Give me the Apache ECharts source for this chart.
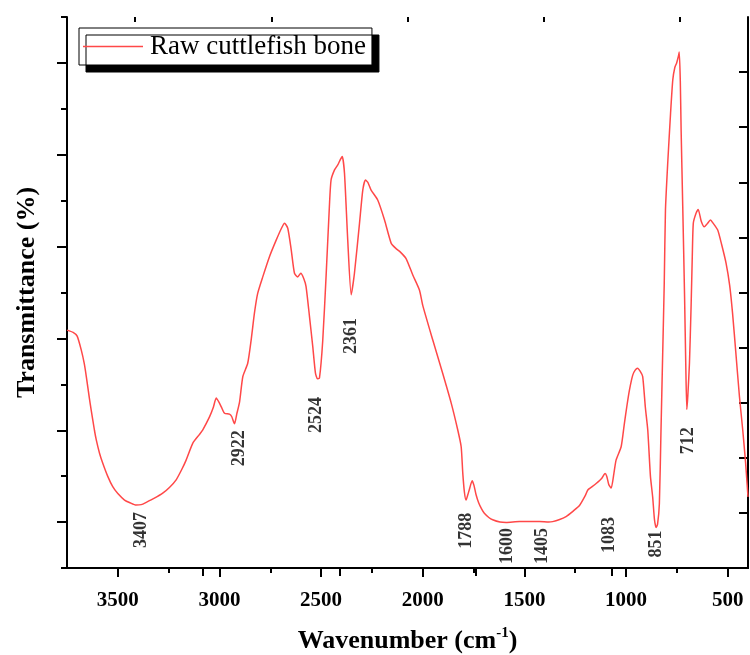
<!DOCTYPE html>
<html>
<head>
<meta charset="utf-8">
<script src="https://cdn.jsdelivr.net/npm/echarts@6/dist/echarts.min.js"></script>
<style>
html,body{margin:0;padding:0;background:#fff;}
#chart{width:750px;height:655px;}
</style>
</head>
<body>
<div id="chart"></div>
<script>
// ---- data ----
const seriesName = 'Raw cuttlefish bone';
const wavenumbers = [3750,3720,3700,3680,3665,3655,3640,3631,3615,3606,3590,3574,3550,3525,3500,3467,3440,3410,3385,3360,3320,3279,3245,3213,3185,3164,3131,3100,3082,3049,3030,3016,3000,2991,2975,2951,2940,2926,2915,2901,2885,2861,2844,2828,2812,2787,2754,2721,2695,2680,2664,2647,2631,2615,2600,2585,2574,2557,2541,2528,2518,2508,2492,2475,2459,2451,2434,2418,2405,2396,2385,2369,2352,2336,2311,2295,2282,2270,2254,2221,2188,2155,2130,2110,2082,2049,2016,2000,1951,1902,1860,1828,1811,1803,1795,1787,1778,1770,1757,1748,1738,1725,1710,1697,1675,1656,1620,1590,1524,1480,1426,1380,1361,1330,1295,1260,1229,1200,1188,1170,1147,1120,1103,1095,1085,1073,1060,1049,1024,1008,995,983,967,955,943,930,918,905,893,880,869,860,852,845,836,828,820,812,806,795,781,770,760,751,742,738,733,729,721,712,706,701,696,688,680,674,669,656,645,630,615,600,585,570,549,530,508,490,476,460,442,426,412,400];
const transmittance = [5.18,5.13,5.05,4.75,4.45,4.17,3.70,3.44,3.00,2.79,2.50,2.28,2.00,1.77,1.62,1.48,1.42,1.37,1.38,1.43,1.52,1.63,1.76,1.92,2.15,2.35,2.72,2.90,3.01,3.29,3.50,3.70,3.59,3.51,3.37,3.35,3.30,3.14,3.35,3.62,4.17,4.46,4.97,5.55,5.98,6.34,6.78,7.14,7.40,7.51,7.40,6.93,6.42,6.34,6.42,6.30,6.13,5.47,4.82,4.25,4.12,4.14,4.95,6.40,7.90,8.45,8.67,8.78,8.90,8.96,8.60,7.14,5.95,6.42,7.51,8.23,8.45,8.40,8.23,8.01,7.58,7.07,6.95,6.88,6.74,6.38,6.05,5.72,4.97,4.24,3.59,3.01,2.64,2.06,1.65,1.48,1.60,1.72,1.90,1.80,1.60,1.42,1.28,1.19,1.10,1.05,1.00,0.99,1.01,1.01,1.01,1.00,1.01,1.05,1.12,1.24,1.36,1.58,1.70,1.76,1.84,1.95,2.06,2.00,1.82,1.74,2.05,2.35,2.64,3.15,3.55,3.88,4.20,4.31,4.35,4.28,4.17,3.50,3.00,2.00,1.55,1.05,0.88,0.95,1.40,3.00,4.60,6.20,7.80,8.81,9.90,10.63,10.90,11.00,11.15,11.24,10.60,9.54,7.87,5.91,4.40,3.45,3.75,4.46,5.69,6.80,7.51,7.72,7.81,7.55,7.43,7.50,7.58,7.50,7.36,7.05,6.64,6.15,5.55,4.70,3.73,3.01,2.30,1.55];

const peakLabels = ['3407','2922','2524','2361','1788','1600','1405','1083','851','712'];
const peakLabelX = [3383,2901,2523,2351,1785,1586,1414,1082,851,693];
const peakLabelY = [0.83,2.61,3.33,5.05,0.81,0.48,0.48,0.72,0.52,2.77];

const xMajorTicks = [3500,3000,2500,2000,1500,1000,500];
const xMinorTicks = [3250,2750,2250,1750,1250,750];
const yMajorTicks = [1,3,5,7,9,11];
const yMinorTicks = [0,2,4,6,8,10,12];
const topMajorTicks = [2,4,6,8];
const topMinorTicks = [1,3,5,7,9];
const rightTicks = [1,2,3,4,5,6,7,8,9];

// ---- chart ----
const serif = '"Liberation Serif","Times New Roman",serif';
const lineColor = '#ff4848';
const axisLine = {show:true, lineStyle:{color:'#000', width:2}};

const chart = echarts.init(document.getElementById('chart'), null, {renderer:'canvas'});
chart.setOption({
  animation:false,
  backgroundColor:'#fff',
  grid:{left:67, right:2, top:17, bottom:87, outerBoundsMode:'none', containLabel:false},
  legend:{
    data:[{name:seriesName, icon:'rect'}], left:79, top:28, orient:'horizontal',
    padding:[5,6,5,4], itemWidth:60, itemHeight:1.6, itemGap:5,
    backgroundColor:'#fff', borderColor:'#000', borderWidth:1,
    shadowColor:'#000', shadowBlur:0, shadowOffsetX:7, shadowOffsetY:7,
    textStyle:{fontFamily:serif, fontSize:27, color:'#000', padding:[0,0,0,2]}
  },
  xAxis:[
    {type:'value', position:'bottom', inverse:true, min:400, max:3750,
     axisLine:axisLine, splitLine:{show:false},
     axisTick:{show:true, inside:false, length:9, lineStyle:{color:'#000', width:2}, customValues:xMajorTicks},
     axisLabel:{show:true, customValues:xMajorTicks, margin:22, formatter:v=>String(v),
                fontFamily:serif, fontWeight:'bold', fontSize:21, color:'#000'},
     name:'{a|Wavenumber (cm}{s|-1}{a|)}', nameLocation:'middle', nameGap:58,
     nameTextStyle:{rich:{
       a:{fontFamily:serif, fontWeight:'bold', fontSize:26, color:'#000', lineHeight:30},
       s:{fontFamily:serif, fontWeight:'bold', fontSize:15, color:'#000', verticalAlign:'top', lineHeight:30, padding:[0,0,10,0]}
     }}
    },
    {type:'value', position:'bottom', inverse:true, min:400, max:3750,
     axisLine:{show:false}, splitLine:{show:false}, axisLabel:{show:false},
     axisTick:{show:true, inside:false, length:5, lineStyle:{color:'#000', width:2}, customValues:xMinorTicks}
    },
    {type:'value', position:'top', min:0, max:10,
     axisLine:axisLine, splitLine:{show:false}, axisLabel:{show:false},
     axisTick:{show:true, inside:true, length:8, lineStyle:{color:'#000', width:2}, customValues:topMajorTicks}
    },
    {type:'value', position:'top', min:0, max:10,
     axisLine:{show:false}, splitLine:{show:false}, axisLabel:{show:false},
     axisTick:{show:true, inside:true, length:5, lineStyle:{color:'#000', width:2}, customValues:topMinorTicks}
    }
  ],
  yAxis:[
    {type:'value', position:'left', min:0, max:12,
     axisLine:axisLine, splitLine:{show:false}, axisLabel:{show:false},
     axisTick:{show:true, inside:false, length:10, lineStyle:{color:'#000', width:2}, customValues:yMajorTicks},
     name:'Transmittance (%)', nameLocation:'middle', nameGap:27,
     nameTextStyle:{fontFamily:serif, fontWeight:'bold', fontSize:26, color:'#000'}
    },
    {type:'value', position:'left', min:0, max:12,
     axisLine:{show:false}, splitLine:{show:false}, axisLabel:{show:false},
     axisTick:{show:true, inside:false, length:6, lineStyle:{color:'#000', width:2}, customValues:yMinorTicks}
    },
    {type:'value', position:'right', min:0, max:10,
     axisLine:axisLine, splitLine:{show:false}, axisLabel:{show:false},
     axisTick:{show:true, inside:true, length:9, lineStyle:{color:'#000', width:2}, customValues:rightTicks}
    }
  ],
  series:[
    {name:seriesName, type:'line', xAxisIndex:0, yAxisIndex:0,
     data:wavenumbers.map((w,i)=>[w, transmittance[i]]),
     symbol:'none', smooth:0.2, lineStyle:{color:lineColor, width:1.5}, itemStyle:{color:lineColor}},
    {name:'peaks', type:'scatter', xAxisIndex:0, yAxisIndex:0, silent:true,
     symbolSize:0, itemStyle:{color:'transparent'},
     data:peakLabelX.map((x,i)=>({value:[x, peakLabelY[i]], name:peakLabels[i]})),
     label:{show:true, position:'inside', rotate:90, formatter:p=>p.name,
            fontFamily:serif, fontWeight:'bold', fontSize:18, color:'#000', align:'center', verticalAlign:'middle'}
    }
  ]
});
</script>
</body>
</html>
